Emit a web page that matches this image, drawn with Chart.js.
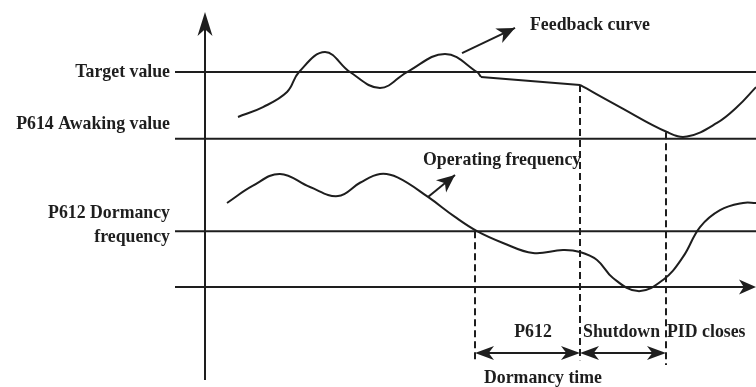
<!DOCTYPE html>
<html>
<head>
<meta charset="utf-8">
<script src="https://cdn.jsdelivr.net/npm/chart.js@4/dist/chart.umd.min.js"></script>
<style>
  html, body { margin: 0; padding: 0; background: #fff; }
  canvas { display: block; }
</style>
</head>
<body>
<canvas id="sleepChart" width="756" height="387"></canvas>
<script>
// time runs along x, process value / frequency along y
const levelNames = ["Target value", "P614 Awaking value", "P612 Dormancy|frequency"];
const levelValues = [100, 69, 26];

const feedbackWave = [
  [6.6, 79.1], [11.6, 83.7], [16.4, 90.7], [18.8, 100], [24, 109.3],
  [29, 100], [35, 92.6], [40.4, 100], [48, 108.4], [54.4, 100], [55.2, 97.7]
];
const feedbackHold = [[55.2, 97.7], [75, 94]];
const feedbackDrop = [
  [75, 94], [83, 83.7], [92.4, 72.1], [96.4, 70.0],
  [102.4, 76.3], [106.4, 83.7], [110.2, 93]
];

const runFrequency = [
  [4.4, 39.1], [9.5, 47], [15, 52.6], [21, 46.5], [26.6, 42.3],
  [31, 48.5], [35, 52.6], [38.5, 51], [44.6, 41.9], [50, 32.6],
  [54.4, 26], [59.6, 20.5], [65.6, 15.8], [71.6, 17.2], [75, 16.3], [78.4, 12.6],
  [81.6, 4.2], [86.6, -1.9], [91.6, 3.3], [95.6, 14], [99, 27.9], [103, 35.8],
  [107.6, 39.1], [110.2, 39.1]
];

// moments marked by dashed lines: dormancy starts, shutdown, wake-up
const markTimes = [54, 75, 92.2];
const markTops = [26, 94, 72];
const markBottoms = [-34, -34, -36.3];

const X_MIN = -41, X_MAX = 110.2;
const Y_MIN = -46.5, Y_MAX = 133.5;
const INK = "#1e1e1e";
const FONT = 'bold 17.8px "Liberation Serif", "DejaVu Serif", serif';

const pts = a => a.map(p => ({ x: p[0], y: p[1] }));

const curve = (data, smooth) => ({
  data: pts(data),
  showLine: true,
  borderColor: INK,
  borderWidth: 2,
  pointRadius: 0,
  tension: smooth ? 0.4 : 0
});

const datasets = [];
levelValues.forEach(v => datasets.push(curve([[-6, v], [X_MAX, v]], false)));
datasets.push(curve([[-6, 0], [X_MAX - 1, 0]], false)); // time axis
datasets.push(curve([[0, -43.3], [0, 125]], false)); // value axis
datasets.push(curve(feedbackWave, true));
datasets.push(curve(feedbackHold, false));
datasets.push(curve(feedbackDrop, true));
datasets.push(curve(runFrequency, true));
markTimes.forEach((t, i) => {
  const ds = curve([[t, markTops[i]], [t, markBottoms[i]]], false);
  ds.borderDash = [7, 4];
  datasets.push(ds);
});

function arrowHead(ctx, x, y, angle, len, half) {
  ctx.save();
  ctx.translate(x, y);
  ctx.rotate(angle);
  ctx.beginPath();
  ctx.moveTo(0, 0);
  ctx.lineTo(-len, -half);
  ctx.lineTo(-len * 0.72, 0);
  ctx.lineTo(-len, half);
  ctx.closePath();
  ctx.fill();
  ctx.restore();
}

function arrow(ctx, x1, y1, x2, y2, len, half) {
  ctx.beginPath();
  ctx.moveTo(x1, y1);
  ctx.lineTo(x2, y2);
  ctx.stroke();
  arrowHead(ctx, x2, y2, Math.atan2(y2 - y1, x2 - x1), len, half);
}

const annotations = {
  id: "annotations",
  afterDatasetsDraw(chart) {
    const ctx = chart.ctx;
    const sx = chart.scales.x, sy = chart.scales.y;
    const X = v => sx.getPixelForValue(v);
    const Y = v => sy.getPixelForValue(v);
    ctx.save();
    ctx.fillStyle = INK;
    ctx.strokeStyle = INK;
    ctx.lineWidth = 2;

    // axis arrowheads
    arrowHead(ctx, X(0), Y(127.9), -Math.PI / 2, 24, 7.5);
    arrowHead(ctx, X(X_MAX), Y(0), 0, 17, 7.5);

    // pointers to the two curves
    arrow(ctx, X(51.4), Y(108.8), X(62), Y(120.5), 18, 8);
    arrow(ctx, X(44.6), Y(41.9), X(50), Y(52.1), 18, 8);

    // interval arrows between the dashed marks
    const yArr = Y(-30.7);
    [[0, 1], [1, 2]].forEach(([a, b]) => {
      const xa = X(markTimes[a]), xb = X(markTimes[b]);
      ctx.beginPath();
      ctx.moveTo(xa + 8, yArr);
      ctx.lineTo(xb - 8, yArr);
      ctx.stroke();
      arrowHead(ctx, xa, yArr, Math.PI, 19, 7);
      arrowHead(ctx, xb, yArr, 0, 19, 7);
    });

    ctx.font = FONT;
    ctx.textBaseline = "middle";

    // level labels, right aligned against the lines
    ctx.textAlign = "right";
    const labelY = [Y(levelValues[0]), Y(75.8), null];
    levelNames.forEach((name, i) => {
      const parts = name.split("|");
      if (parts.length === 1) {
        ctx.fillText(parts[0], X(-7), labelY[i]);
      } else {
        ctx.fillText(parts[0], X(-7), Y(34.4));
        ctx.fillText(parts[1], X(-7), Y(23.3));
      }
    });

    ctx.textAlign = "left";
    ctx.fillText("Feedback curve", X(65), Y(121.9));
    ctx.fillText("Operating frequency", X(43.6), Y(59.1));
    ctx.fillText("Shutdown", X(75.6), Y(-20.9));
    ctx.fillText("PID closes", X(92.4), Y(-20.9));

    ctx.textAlign = "center";
    ctx.fillText("P612", X(65.6), Y(-20.9));
    ctx.fillText("Dormancy time", X(67.6), Y(-42.3));
    ctx.restore();
  }
};

new Chart(document.getElementById("sleepChart"), {
  type: "scatter",
  data: { datasets },
  plugins: [annotations],
  options: {
    responsive: false,
    animation: false,
    devicePixelRatio: 1,
    layout: { padding: 0 },
    plugins: { legend: { display: false }, tooltip: { enabled: false } },
    scales: {
      x: { type: "linear", display: false, min: X_MIN, max: X_MAX },
      y: { type: "linear", display: false, min: Y_MIN, max: Y_MAX }
    }
  }
});
</script>
</body>
</html>
